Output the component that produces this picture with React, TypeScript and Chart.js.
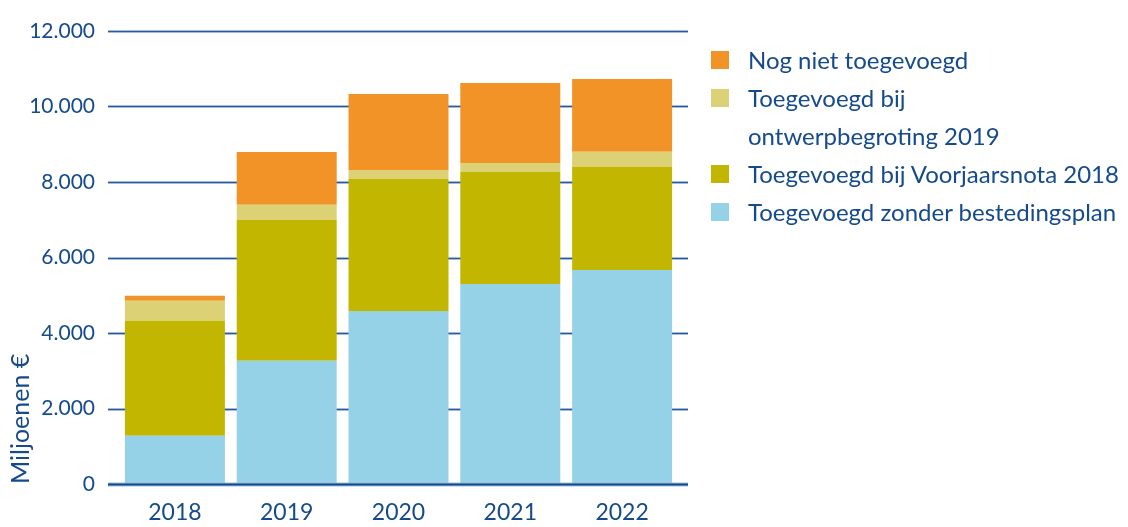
import React, { useEffect, useRef } from "react";
import { Chart, registerables } from "chart.js";

Chart.register(...registerables);

const categories = ["2018", "2019", "2020", "2021", "2022"];
const zonderBestedingsplan = [1280, 3265, 4585, 5300, 5670];
const voorjaarsnota2018 = [3045, 3730, 3495, 2965, 2730];
const ontwerpbegroting2019 = [530, 400, 240, 240, 400];
const nogNietToegevoegd = [135, 1400, 2010, 2120, 1930];
const yAxisTitle = "Miljoenen €";

const seriesLabels = [
  "Nog niet toegevoegd",
  "Toegevoegd bij\nontwerpbegroting 2019",
  "Toegevoegd bij Voorjaarsnota 2018",
  "Toegevoegd zonder bestedingsplan",
];
const seriesColors = ["#f29327", "#ddd176", "#c3b600", "#95d2e7"];

const TEXT = "#154a8c";
const FONT = "Lato, 'Open Sans', sans-serif";

function fmt(v: number): string {
  const s = Math.round(v).toString();
  return s.replace(/\B(?=(\d{3})+(?!\d))/g, ".");
}

const gridPlugin = {
  id: "customGrid",
  beforeDatasetsDraw(chart: any) {
    const ctx = chart.ctx;
    const ys = chart.scales.y;
    ctx.save();
    ys.ticks.forEach((t: any) => {
      if (t.value === 0) return;
      const y = Math.round(ys.getPixelForValue(t.value)) + 0.5;
      ctx.strokeStyle = "rgba(150,180,215,0.9)";
      ctx.lineWidth = 3;
      ctx.beginPath();
      ctx.moveTo(108, y);
      ctx.lineTo(688, y);
      ctx.stroke();
      ctx.strokeStyle = "#2a5a9a";
      ctx.lineWidth = 1.2;
      ctx.beginPath();
      ctx.moveTo(108, y);
      ctx.lineTo(688, y);
      ctx.stroke();
    });
    ctx.restore();
  },
  afterDatasetsDraw(chart: any) {
    const ctx = chart.ctx;
    const ys = chart.scales.y;
    const y = Math.round(ys.getPixelForValue(0)) + 0.5;
    ctx.save();
    ctx.strokeStyle = "rgba(150,180,215,0.9)";
    ctx.lineWidth = 4;
    ctx.beginPath();
    ctx.moveTo(108, y);
    ctx.lineTo(688, y);
    ctx.stroke();
    ctx.strokeStyle = "#0f4a8e";
    ctx.lineWidth = 2;
    ctx.beginPath();
    ctx.moveTo(108, y);
    ctx.lineTo(688, y);
    ctx.stroke();
    ctx.restore();
  },
};

function Legend() {
  return (
    <div
      style={{
        position: "absolute",
        left: 711,
        top: 41,
        fontFamily: FONT,
        fontSize: 24,
        lineHeight: "38px",
        color: TEXT,
      }}
    >
      {seriesLabels.map((lab, i) => (
        <div key={i} style={{ display: "flex", alignItems: "flex-start" }}>
          <div
            style={{
              width: 18,
              height: 18,
              marginTop: 10,
              background: seriesColors[i],
              flex: "0 0 auto",
            }}
          />
          <div style={{ marginLeft: 19, whiteSpace: "pre" }}>{lab}</div>
        </div>
      ))}
    </div>
  );
}

export default function App() {
  const ref = useRef<HTMLCanvasElement | null>(null);

  useEffect(() => {
    document.body.style.margin = "0";
    const canvas = ref.current;
    if (!canvas) return;
    const bp = 100 / 111.8;
    const chart = new Chart(canvas, {
      type: "bar",
      data: {
        labels: categories,
        datasets: [
          { label: seriesLabels[3], data: zonderBestedingsplan, backgroundColor: seriesColors[3] },
          { label: seriesLabels[2], data: voorjaarsnota2018, backgroundColor: seriesColors[2] },
          { label: seriesLabels[1], data: ontwerpbegroting2019, backgroundColor: seriesColors[1] },
          { label: seriesLabels[0], data: nogNietToegevoegd, backgroundColor: seriesColors[0] },
        ].map((d) => ({ ...d, barPercentage: bp, categoryPercentage: 1, borderWidth: 0 })),
      },
      options: {
        animation: false,
        responsive: false,
        devicePixelRatio: 1,
        layout: { padding: { top: 31, right: 450, left: 0, bottom: 0 } },
        plugins: {
          legend: { display: false },
          tooltip: { enabled: false },
          title: { display: false },
        },
        scales: {
          x: {
            stacked: true,
            grid: { display: false, drawTicks: false },
            border: { display: false },
            ticks: {
              color: TEXT,
              font: { family: FONT, size: 23 },
              padding: 15,
              maxRotation: 0,
            },
            afterFit(s: any) {
              s.height = 43;
            },
          },
          y: {
            stacked: true,
            min: 0,
            max: 12000,
            grid: { display: false, drawTicks: false },
            border: { display: false },
            ticks: {
              stepSize: 2000,
              color: TEXT,
              font: { family: FONT, size: 21 },
              padding: 24,
              callback: (v: any) => fmt(Number(v)),
            },
            title: {
              display: true,
              text: yAxisTitle,
              align: "start",
              color: TEXT,
              font: { family: FONT, size: 25 },
              padding: { top: 6, bottom: 0 },
            },
            afterFit(s: any) {
              s.width = 119;
              s.paddingTop = 0;
              s.paddingBottom = 0;
            },
          },
        },
      },
      plugins: [gridPlugin],
    } as any);
    return () => chart.destroy();
  }, []);

  return (
    <div style={{ position: "relative", width: 1128, height: 527, background: "#fff" }}>
      <canvas ref={ref} width={1128} height={527} style={{ width: 1128, height: 527, display: "block" }} />
      <Legend />
    </div>
  );
}
